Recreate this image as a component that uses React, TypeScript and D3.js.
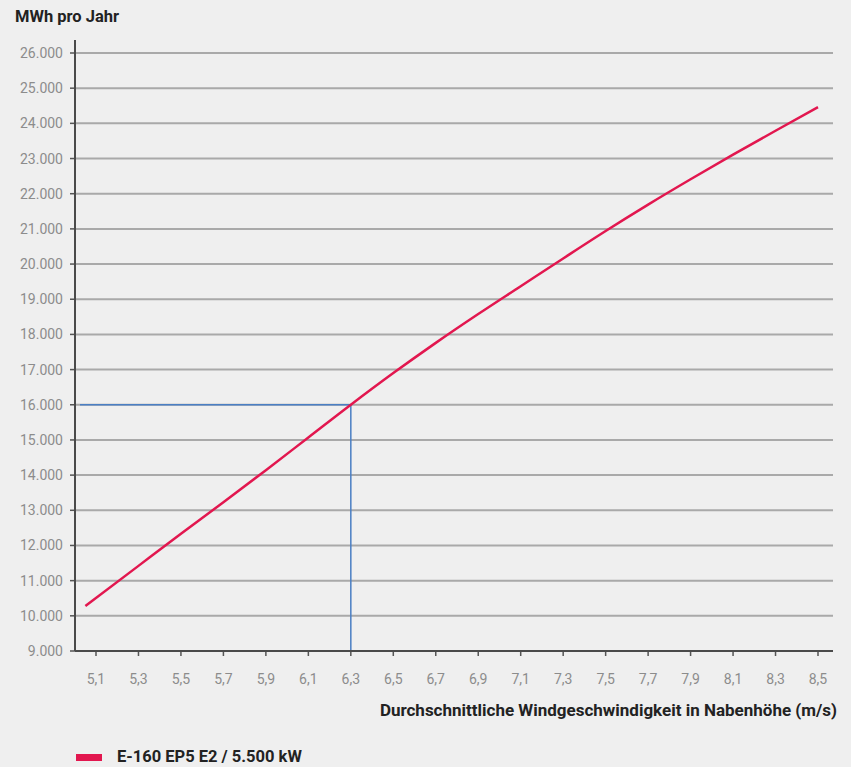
import React, { useEffect, useRef } from 'react';
import * as d3 from 'd3';

// wind speed (m/s) vs. annual yield (MWh)
const windSpeeds = [5.05, 5.3, 5.5, 5.7, 5.9, 6.1, 6.3, 6.5, 6.7, 6.9, 7.1, 7.3, 7.5, 7.7, 7.9, 8.1, 8.3, 8.5];
const yieldMWh = [10280, 11420, 12330, 13230, 14140, 15070, 16000, 16900, 17760, 18580, 19370, 20160, 20940, 21690, 22410, 23110, 23790, 24460];

const xTicks = [5.1, 5.3, 5.5, 5.7, 5.9, 6.1, 6.3, 6.5, 6.7, 6.9, 7.1, 7.3, 7.5, 7.7, 7.9, 8.1, 8.3, 8.5];
const xTickLabels = ['5,1', '5,3', '5,5', '5,7', '5,9', '6,1', '6,3', '6,5', '6,7', '6,9', '7,1', '7,3', '7,5', '7,7', '7,9', '8,1', '8,3', '8,5'];
const yTicks = [9000, 10000, 11000, 12000, 13000, 14000, 15000, 16000, 17000, 18000, 19000, 20000, 21000, 22000, 23000, 24000, 25000, 26000];
const yTickLabels = ['9.000', '10.000', '11.000', '12.000', '13.000', '14.000', '15.000', '16.000', '17.000', '18.000', '19.000', '20.000', '21.000', '22.000', '23.000', '24.000', '25.000', '26.000'];

// highlighted reading
const markerSpeed = 6.3;
const markerYield = 16000;

const seriesName = 'E-160 EP5 E2 / 5.500 kW';
const yTitle = 'MWh pro Jahr';
const xTitle = 'Durchschnittliche Windgeschwindigkeit in Nabenhöhe (m/s)';

const App = () => {
  const svgRef = useRef<SVGSVGElement>(null);

  useEffect(() => {
    document.body.style.margin = '0';
    if (!svgRef.current) return;
    const svg = d3.select(svgRef.current);
    svg.selectAll('*').remove();

    const width = 851;
    const height = 767;
    const font = 'Roboto, "DejaVu Sans", sans-serif';

    const left = 75;
    const right = 833;
    const bottom = 651;
    const top = 40;

    const xScale = d3.scaleLinear().domain([5.1, 8.5]).range([96, 818]);
    const yScale = d3.scaleLinear().domain([9000, 26000]).range([bottom, 53]);

    svg.append('rect')
      .attr('width', width)
      .attr('height', height)
      .attr('fill', '#efefef');

    // grid lines
    svg.append('g')
      .selectAll('line')
      .data(yTicks.slice(1))
      .enter()
      .append('line')
      .attr('x1', left)
      .attr('x2', right)
      .attr('y1', d => yScale(d))
      .attr('y2', d => yScale(d))
      .attr('stroke', '#a9a9a9')
      .attr('stroke-width', 2);

    // y ticks + labels
    const yAxis = svg.append('g');
    yAxis.selectAll('line')
      .data(yTicks)
      .enter()
      .append('line')
      .attr('x1', left - 5)
      .attr('x2', left)
      .attr('y1', d => yScale(d))
      .attr('y2', d => yScale(d))
      .attr('stroke', '#555')
      .attr('stroke-width', 1.5);
    yAxis.selectAll('text')
      .data(yTicks)
      .enter()
      .append('text')
      .attr('x', 63)
      .attr('y', d => yScale(d) + 5)
      .attr('text-anchor', 'end')
      .attr('fill', '#8c8c8c')
      .attr('font-family', font)
      .attr('font-size', '14px')
      .text((_, i) => yTickLabels[i]);

    // x ticks + labels
    const xAxis = svg.append('g');
    xAxis.selectAll('line')
      .data(xTicks)
      .enter()
      .append('line')
      .attr('x1', d => xScale(d))
      .attr('x2', d => xScale(d))
      .attr('y1', bottom)
      .attr('y2', bottom + 5)
      .attr('stroke', '#555')
      .attr('stroke-width', 1.5);
    xAxis.selectAll('text')
      .data(xTicks)
      .enter()
      .append('text')
      .attr('x', d => xScale(d))
      .attr('y', 684)
      .attr('text-anchor', 'middle')
      .attr('fill', '#8c8c8c')
      .attr('font-family', font)
      .attr('font-size', '14px')
      .text((_, i) => xTickLabels[i]);

    // marker lines
    svg.append('path')
      .attr('d', `M${left + 5},${yScale(markerYield)}H${xScale(markerSpeed)}V${bottom}`)
      .attr('fill', 'none')
      .attr('stroke', '#4a7fc4')
      .attr('stroke-width', 1.5);

    // axes
    svg.append('line')
      .attr('x1', left).attr('x2', left)
      .attr('y1', top).attr('y2', bottom)
      .attr('stroke', '#4a4a4a')
      .attr('stroke-width', 2);
    svg.append('line')
      .attr('x1', left).attr('x2', right)
      .attr('y1', bottom).attr('y2', bottom)
      .attr('stroke', '#4a4a4a')
      .attr('stroke-width', 2);

    // yield curve
    const line = d3.line<number>()
      .x((_, i) => xScale(windSpeeds[i]))
      .y(d => yScale(d))
      .curve(d3.curveMonotoneX);
    svg.append('path')
      .datum(yieldMWh)
      .attr('fill', 'none')
      .attr('stroke', '#e2174f')
      .attr('stroke-width', 2.5)
      .attr('d', line);

    // titles
    svg.append('text')
      .attr('x', 15)
      .attr('y', 22)
      .attr('fill', '#222')
      .attr('font-family', font)
      .attr('font-size', '16.5px')
      .attr('font-weight', 'bold')
      .text(yTitle);
    svg.append('text')
      .attr('x', 837)
      .attr('y', 716)
      .attr('text-anchor', 'end')
      .attr('fill', '#222')
      .attr('font-family', font)
      .attr('font-size', '17px')
      .attr('font-weight', 'bold')
      .text(xTitle);

    // legend
    svg.append('rect')
      .attr('x', 76)
      .attr('y', 754)
      .attr('width', 26)
      .attr('height', 7)
      .attr('fill', '#e2174f');
    svg.append('text')
      .attr('x', 117)
      .attr('y', 762)
      .attr('fill', '#222')
      .attr('font-family', font)
      .attr('font-size', '16.5px')
      .attr('font-weight', 'bold')
      .text(seriesName);
  }, []);

  return <svg ref={svgRef} width={851} height={767} style={{ display: 'block' }} />;
};

export default App;
